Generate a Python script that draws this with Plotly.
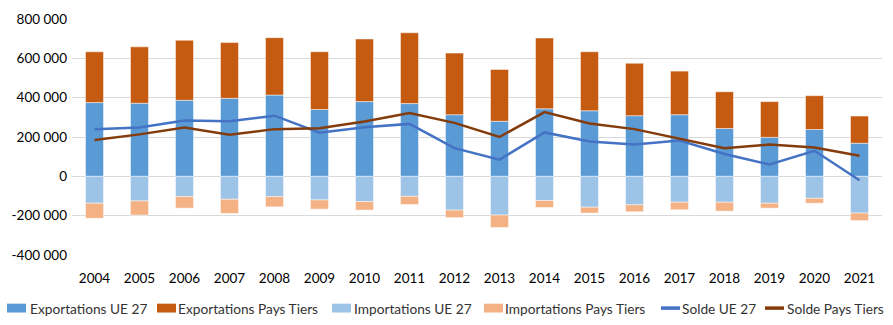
import plotly.graph_objects as go

years = [str(y) for y in range(2004, 2022)]

exp_ue27 = [375000, 371700, 386700, 396700, 413300, 340000, 380000, 370000, 313300,
            280000, 343300, 333300, 308300, 313300, 243300, 198300, 238300, 168300]
exp_tiers = [258000, 286700, 305000, 283300, 291700, 293300, 318300, 360000, 313300,
             263300, 360000, 300000, 266700, 221700, 186700, 181700, 171700, 138300]
imp_ue27 = [-136700, -125000, -103300, -116700, -103300, -120000, -128300, -101700, -171700,
            -196700, -123300, -156700, -145000, -131700, -131700, -136700, -111700, -186700]
imp_tiers = [-76700, -71700, -58300, -71700, -51700, -46700, -43300, -41700, -38300,
             -63300, -35000, -30000, -35000, -38300, -45000, -25000, -25000, -38300]
solde_ue27 = [240000, 248300, 283300, 280000, 308300, 221700, 250000, 266700, 143300,
              85000, 223300, 176700, 161700, 181700, 113300, 60000, 130000, -20000]
solde_tiers = [185000, 213300, 248300, 211700, 240000, 245000, 278300, 321700, 271700,
               200000, 326700, 268300, 240000, 191700, 143300, 161700, 146700, 105000]

y_ticks = [-400000, -200000, 0, 200000, 400000, 600000, 800000]
y_labels = ["-400 000", "-200 000", "0", "200 000", "400 000", "600 000", "800 000"]

W, H = 893, 325
M_L, M_R, M_T, M_B = 72, 11, 15, 70
font_family = "Lato, 'Open Sans', sans-serif"
edge = dict(color="rgba(255,255,255,0.6)", width=0.8)

series_bars = [
    ("Exportations UE 27", exp_ue27, "#5B9BD5"),
    ("Exportations Pays Tiers", exp_tiers, "#C55A11"),
    ("Importations UE 27", imp_ue27, "#9DC3E6"),
    ("Importations Pays Tiers", imp_tiers, "#F4B183"),
]
series_lines = [
    ("Solde UE 27", solde_ue27, "#4472C4"),
    ("Solde Pays Tiers", solde_tiers, "#843C0C"),
]

fig = go.Figure()
for name, vals, col in series_bars:
    fig.add_trace(go.Bar(x=years, y=vals, name=name,
                         marker=dict(color=col, line=edge)))
for name, vals, col in series_lines:
    fig.add_trace(go.Scatter(x=years, y=vals, name=name, mode="lines",
                             line=dict(color=col, width=2.5)))


# Legend row below the chart: swatch start (px), text start (px)
def px_x(px):
    return (px - M_L) / (W - M_L - M_R)


def px_y(py):
    return (H - M_B - py) / (H - M_T - M_B)


legend_slots = [(7, 28), (157, 176), (332, 352), (484, 503), (661, 680), (765, 785)]
legend_y = 309
entries = [(n, c, "bar") for n, _, c in series_bars] + [(n, c, "line") for n, _, c in series_lines]
shapes = []
annotations = []
for (sx, tx), (name, col, kind) in zip(legend_slots, entries):
    if kind == "bar":
        shapes.append(dict(type="rect", xref="paper", yref="paper",
                           x0=px_x(sx), x1=px_x(sx + 19),
                           y0=px_y(legend_y + 4.5), y1=px_y(legend_y - 4.5),
                           fillcolor=col, line=dict(width=0)))
    else:
        shapes.append(dict(type="line", xref="paper", yref="paper",
                           x0=px_x(sx), x1=px_x(sx + 19),
                           y0=px_y(legend_y), y1=px_y(legend_y),
                           line=dict(color=col, width=3.5)))
    annotations.append(dict(text=name, xref="paper", yref="paper",
                            x=px_x(tx), y=px_y(legend_y), xanchor="left", yanchor="middle",
                            showarrow=False, font=dict(size=13.7, color="#333333")))

fig.update_layout(
    width=W, height=H,
    margin=dict(l=M_L, r=M_R, t=M_T, b=M_B),
    barmode="relative",
    bargap=0.6,
    showlegend=False,
    plot_bgcolor="white",
    paper_bgcolor="white",
    font=dict(family=font_family, color="#000000", size=13),
    xaxis=dict(showgrid=False, showline=False, ticks="", tickfont=dict(size=13.5),
               ticklabelstandoff=13),
    yaxis=dict(range=[-400000, 800000], tickvals=y_ticks, ticktext=y_labels,
               showgrid=True, gridcolor="#D9D9D9", gridwidth=1,
               zeroline=False, showline=False, ticks="", tickfont=dict(size=13.5),
               ticklabelstandoff=4),
    shapes=shapes,
    annotations=annotations,
)

fig.write_html("out.html")
